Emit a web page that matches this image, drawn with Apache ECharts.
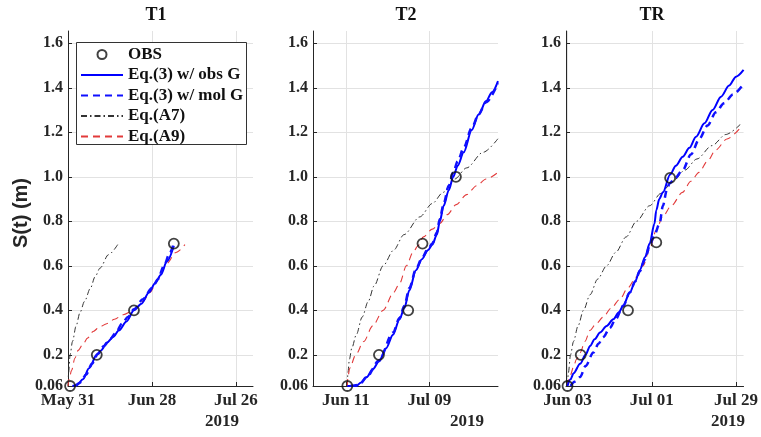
<!DOCTYPE html>
<html><head><meta charset="utf-8">
<script src="https://cdn.jsdelivr.net/npm/echarts@6.0.0/dist/echarts.min.js"></script>
<style>html,body{margin:0;padding:0;background:#fff}#c{width:761px;height:437px}</style>
</head><body><div id="c"></div>
<script>
// x values are days since 2019-05-31
const panelTitles = ['T1', 'T2', 'TR'];
const seriesNames = ['OBS', 'Eq.(3) w/ obs G', 'Eq.(3) w/ mol G', 'Eq.(A7)', 'Eq.(A9)'];
const yTickValues = [0.06, 0.2, 0.4, 0.6, 0.8, 1.0, 1.2, 1.4, 1.6];
const xTickDays = [[0, 28, 56], [11, 39], [3, 31, 59]];
const yearLabel = '2019';

// ---- T1 ----
const t1Obs = [[0.7, 0.06], [9.6, 0.2], [22, 0.4], [35.3, 0.7]];
const t1Eq3Obs = [[1.5, 0.06], [3, 0.065], [5, 0.09], [7, 0.14], [9.6, 0.2], [11, 0.22], [13, 0.255], [15, 0.28], [17, 0.31], [19.5, 0.35], [22, 0.4], [24.5, 0.43], [27, 0.48], [29, 0.52], [31, 0.56], [33, 0.62], [35.3, 0.69]];
const t1Eq3Mol = [[2.5, 0.06], [4, 0.075], [6, 0.11], [8, 0.16], [10, 0.205], [12, 0.24], [14, 0.27], [16, 0.3], [18, 0.34], [20, 0.37], [22, 0.405], [25, 0.45], [28, 0.5], [30, 0.54], [32, 0.6], [34, 0.66], [35.5, 0.71]];
const t1A7 = [[0, 0.06], [0.2, 0.12], [0.7, 0.2], [1.5, 0.26], [2.7, 0.33], [4, 0.39], [5.5, 0.44], [7.5, 0.5], [9, 0.55], [10.7, 0.59], [13.5, 0.65], [16.8, 0.7]];
const t1A9 = [[0, 0.06], [0.5, 0.1], [1.2, 0.13], [2.3, 0.185], [3.4, 0.22], [5.1, 0.25], [6.5, 0.275], [8.4, 0.305], [10.5, 0.325], [12.9, 0.34], [15.5, 0.36], [18.4, 0.38], [22, 0.4], [25, 0.44], [27.3, 0.48], [30, 0.54], [32.9, 0.61], [36, 0.66], [39, 0.695]];

// ---- T2 ----
const t2Obs = [[11.5, 0.06], [22.1, 0.2], [31.9, 0.4], [36.7, 0.7], [47.9, 1.0]];
const t2Eq3Obs = [[11.5, 0.06], [14.5, 0.06], [16, 0.075], [18, 0.1], [20, 0.135], [22.1, 0.17], [24.5, 0.23], [26.8, 0.29], [29, 0.36], [30.6, 0.41], [32.3, 0.49], [34.5, 0.58], [36.5, 0.63], [38.5, 0.67], [40, 0.695], [41.5, 0.74], [42.5, 0.8], [43.8, 0.87], [45.5, 0.94], [47, 1.0], [48.5, 1.05], [50.5, 1.11], [53.2, 1.21], [55.5, 1.28], [58, 1.34], [60, 1.38], [62, 1.43]];
const t2Eq3Mol = [[12.5, 0.06], [15.5, 0.065], [18, 0.1], [22.1, 0.175], [26.8, 0.3], [29, 0.365], [30.6, 0.42], [32.3, 0.5], [34.5, 0.585], [36.5, 0.635], [38.5, 0.675], [40, 0.7], [41.5, 0.75], [42.5, 0.81], [43.8, 0.88], [45.5, 0.96], [47, 1.02], [48.5, 1.07], [50.5, 1.13], [53.2, 1.22], [55.5, 1.28], [58, 1.335], [62, 1.42]];
const t2A7 = [[11.5, 0.06], [11.7, 0.12], [12.2, 0.18], [13, 0.23], [14.5, 0.29], [16.5, 0.37], [18.5, 0.44], [20.5, 0.51], [23.5, 0.6], [27, 0.67], [30.5, 0.74], [35.8, 0.82], [40, 0.88], [43.6, 0.93], [47.5, 0.99], [51.5, 1.04], [57, 1.11], [62.2, 1.175]];
const t2A9 = [[11.5, 0.06], [11.7, 0.1], [12.3, 0.14], [14.3, 0.2], [17, 0.26], [20, 0.33], [23.5, 0.4], [27, 0.48], [29, 0.52], [31.3, 0.6], [33.5, 0.66], [35.2, 0.69], [37, 0.73], [40, 0.765], [42.5, 0.79], [45, 0.83], [48, 0.875], [51.5, 0.92], [54.8, 0.96], [58, 0.99], [62, 1.02]];

// ---- TR ----
const trObs = [[3.0, 0.06], [7.4, 0.2], [23.1, 0.4], [32.5, 0.705], [37.1, 0.995]];
const trEq3Obs = [[3, 0.06], [4, 0.09], [5, 0.117], [7.2, 0.16], [9, 0.2], [10.5, 0.24], [12, 0.27], [13.8, 0.3], [16, 0.33], [18.2, 0.36], [20, 0.39], [21.5, 0.42], [23.7, 0.48], [25.5, 0.53], [27, 0.58], [28.8, 0.64], [30.3, 0.7], [31.9, 0.79], [32.5, 0.85], [33.5, 0.9], [34.7, 0.93], [37.1, 1.01], [39, 1.05], [41.3, 1.09], [43.5, 1.13], [45.7, 1.18], [48.5, 1.24], [51.2, 1.3], [54, 1.36], [56.7, 1.41], [59, 1.45], [61.5, 1.48]];
const trEq3Mol = [[4, 0.06], [5.5, 0.08], [7.2, 0.1], [9, 0.15], [11.6, 0.21], [13.3, 0.25], [14.9, 0.28], [17, 0.32], [19, 0.36], [21.5, 0.42], [23.7, 0.48], [25.5, 0.53], [27, 0.575], [28.8, 0.63], [30.3, 0.69], [31.9, 0.74], [33.6, 0.79], [34.7, 0.87], [36, 0.94], [36.9, 0.97], [38.5, 0.99], [41.3, 1.03], [44, 1.1], [46.8, 1.17], [49.5, 1.23], [52.3, 1.29], [55, 1.33], [58, 1.37], [61.1, 1.41]];
const trA7 = [[3, 0.06], [3.3, 0.12], [4, 0.2], [5, 0.26], [6.5, 0.33], [8.3, 0.4], [10.5, 0.47], [13, 0.54], [16, 0.6], [19, 0.66], [22.5, 0.73], [25.9, 0.8], [30.3, 0.87], [34, 0.925], [38, 0.98], [42, 1.03], [46, 1.08], [51, 1.14], [55.6, 1.19], [60.4, 1.235]];
const trA9 = [[3, 0.06], [4, 0.11], [5, 0.147], [6, 0.18], [7.2, 0.21], [8.8, 0.26], [10.5, 0.31], [12.5, 0.34], [14.9, 0.37], [17.5, 0.41], [20.4, 0.45], [23, 0.5], [25.9, 0.55], [28.1, 0.6], [30.2, 0.67], [32.5, 0.76], [34.6, 0.82], [37.5, 0.87], [41.2, 0.93], [44, 0.98], [46.7, 1.02], [49.5, 1.07], [52.2, 1.12], [56, 1.17], [60.4, 1.22]];

const panelData = [
  [t1Obs, t1Eq3Obs, t1Eq3Mol, t1A7, t1A9],
  [t2Obs, t2Eq3Obs, t2Eq3Mol, t2A7, t2A9],
  [trObs, trEq3Obs, trEq3Mol, trA7, trA9]
];

const MONTHS = ['Jan','Feb','Mar','Apr','May','Jun','Jul','Aug','Sep','Oct','Nov','Dec'];
function dayLabel(d) {
  const dt = new Date(Date.UTC(2019, 4, 31 + Math.round(d)));
  const dd = dt.getUTCDate();
  return MONTHS[dt.getUTCMonth()] + ' ' + (dd < 10 ? '0' + dd : dd);
}

const SERIF = '"Liberation Serif","Times New Roman",serif';
const grids = [
  { left: 68, top: 31, width: 185, height: 355 },
  { left: 313, top: 31, width: 185, height: 355 },
  { left: 566, top: 31, width: 179, height: 355 }
];
const xRanges = [[0, 61.7], [0, 62], [2.5, 61.5]];

const xAxes = [], yAxes = [], series = [];
for (let i = 0; i < 3; i++) {
  xAxes.push({
    type: 'value', gridIndex: i, min: xRanges[i][0], max: xRanges[i][1],
    axisLine: { show: true, onZero: false, lineStyle: { color: '#262626', width: 1 } },
    axisTick: { show: true, inside: true, length: 4, customValues: xTickDays[i], lineStyle: { color: '#262626' } },
    axisLabel: { customValues: xTickDays[i], formatter: v => dayLabel(v), margin: 6,
      fontFamily: SERIF, fontWeight: 'bold', fontSize: 17, color: '#262626' },
    splitLine: { show: true, lineStyle: { color: '#e2e2e2', width: 1 } }
  });
  yAxes.push({
    type: 'value', gridIndex: i, min: 0.06, max: 1.655,
    axisLine: { show: true, onZero: false, lineStyle: { color: '#262626', width: 1 } },
    axisTick: { show: true, inside: true, length: 4, customValues: yTickValues, lineStyle: { color: '#262626' } },
    axisLabel: { customValues: yTickValues, formatter: v => (v === 0.06 ? '0.06' : v.toFixed(1)), margin: 5,
      fontFamily: SERIF, fontWeight: 'bold', fontSize: 16, color: '#262626' },
    splitLine: { show: true, lineStyle: { color: '#e2e2e2', width: 1 } }
  });
  const d = panelData[i];
  const common = { type: 'line', xAxisIndex: i, yAxisIndex: i, symbol: 'none', smooth: 0.3, smoothMonotone: 'x', animation: false };
  series.push(Object.assign({}, common, { name: seriesNames[1], data: d[1], z: 3,
    lineStyle: { color: '#0000ff', width: 2 }, itemStyle: { color: '#0000ff' } }));
  series.push(Object.assign({}, common, { name: seriesNames[2], data: d[2], z: 3,
    lineStyle: { color: '#1010ff', width: 2.5, type: [7, 5] }, itemStyle: { color: '#1010ff' } }));
  series.push(Object.assign({}, common, { name: seriesNames[3], data: d[3], z: 2,
    lineStyle: { color: '#333333', width: 1, type: [6, 3, 1.5, 3] }, itemStyle: { color: '#333333' } }));
  series.push(Object.assign({}, common, { name: seriesNames[4], data: d[4], z: 2,
    lineStyle: { color: '#e23a3a', width: 1.1, type: [7, 5] }, itemStyle: { color: '#e23a3a' } }));
  series.push({ type: 'scatter', name: seriesNames[0], xAxisIndex: i, yAxisIndex: i, data: d[0],
    symbol: 'circle', symbolSize: 10, z: 5, animation: false,
    itemStyle: { color: 'rgba(0,0,0,0)', borderColor: '#111', borderWidth: 1.8 } });
}

const graphics = [];
const titleX = [156, 406, 652];
panelTitles.forEach((t, i) => graphics.push({ type: 'text', x: titleX[i], y: 15,
  style: { text: t, font: 'bold 18px ' + SERIF, fill: '#111', align: 'center', verticalAlign: 'middle' } }));
const yearX = [222, 467, 728];
yearX.forEach(x => graphics.push({ type: 'text', x: x, y: 422,
  style: { text: yearLabel, font: 'bold 17px ' + SERIF, fill: '#262626', align: 'center', verticalAlign: 'middle' } }));
graphics.push({ type: 'text', x: 21, y: 213, rotation: Math.PI / 2,
  style: { text: 'S(t) (m)', font: 'bold 20px "Liberation Sans", Arial, sans-serif', fill: '#262626', align: 'center', verticalAlign: 'middle' } });
// legend frame
graphics.push({ type: 'rect', z: 3, shape: { x: 76.5, y: 42.5, width: 170, height: 102 },
  style: { fill: '#fff', stroke: '#333', lineWidth: 1 } });

const hideSym = { opacity: 0 };
const chart = echarts.init(document.getElementById('c'), null, { renderer: 'canvas' });
chart.setOption({
  animation: false,
  backgroundColor: '#fff',
  grid: grids,
  xAxis: xAxes,
  yAxis: yAxes,
  legend: {
    data: [
      { name: seriesNames[0], icon: 'circle' },
      { name: seriesNames[1], itemStyle: hideSym },
      { name: seriesNames[2], itemStyle: hideSym },
      { name: seriesNames[3], itemStyle: hideSym },
      { name: seriesNames[4], itemStyle: hideSym }
    ],
    orient: 'vertical', left: 76, top: 41, z: 10,
    itemWidth: 42, itemHeight: 9, itemGap: 3.5,
    padding: [5, 10, 1, 4],
    borderWidth: 0, backgroundColor: 'rgba(0,0,0,0)',
    textStyle: { fontFamily: SERIF, fontWeight: 'bold', fontSize: 17, lineHeight: 17, color: '#111' },
    selectedMode: false
  },
  series: series,
  graphic: graphics
});
</script></body></html>
